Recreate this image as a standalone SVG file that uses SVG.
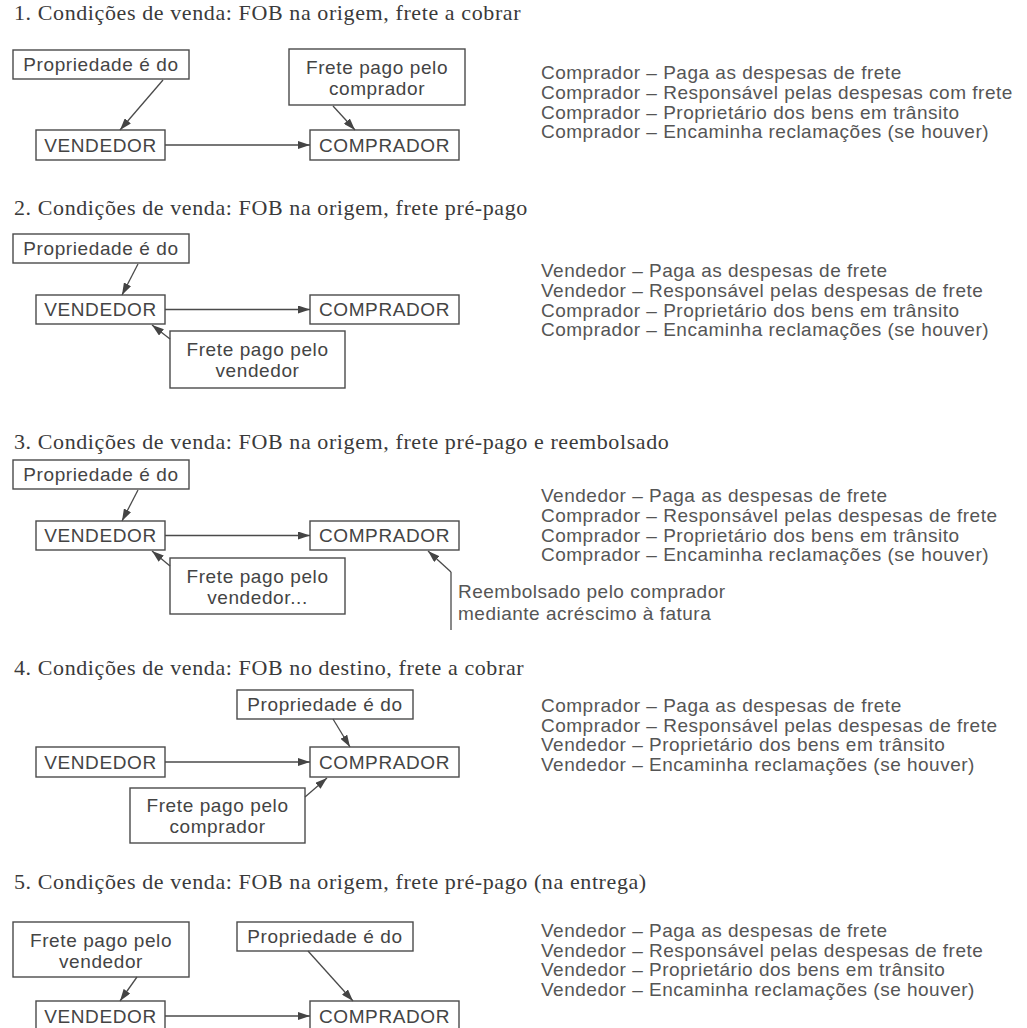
<svg xmlns="http://www.w3.org/2000/svg" width="1027" height="1028" viewBox="0 0 1027 1028">
<style>
.bg{fill:#ffffff}
.title{font-family:"Liberation Serif","Times New Roman",serif;font-size:22px;fill:#3a3a3a;letter-spacing:0.6px}
.box rect{fill:#ffffff;stroke:#4a4a4a;stroke-width:1.4}
.box text{font-family:"Liberation Sans",Arial,sans-serif;font-size:19px;fill:#444;text-anchor:middle;dominant-baseline:central;letter-spacing:0.6px}
.info{font-family:"Liberation Sans",Arial,sans-serif;font-size:19px;fill:#555;letter-spacing:0.5px;dominant-baseline:central}
.conn line{stroke:#4a4a4a;stroke-width:1.3;fill:none}
.arr{marker-end:url(#ah)}
</style>
<defs>
<marker id="ah" markerUnits="userSpaceOnUse" markerWidth="12" markerHeight="8" refX="12" refY="4" orient="auto">
<path d="M0,0 L12,4 L0,8 z" fill="#444"/>
</marker>
</defs>
<rect class="bg" x="0" y="0" width="1027" height="1028"/>

<!-- Section 1 -->
<text class="title" x="14" y="20">1. Condições de venda: FOB na origem, frete a cobrar</text>
<g id="s1-prop" class="box"><rect x="13" y="50" width="176" height="29"/><text x="101" y="64.5">Propriedade é do</text></g>
<g id="s1-frete" class="box"><rect x="289" y="49" width="176" height="56"/><text x="377" y="67">Frete pago pelo</text><text x="377" y="88">comprador</text></g>
<g id="s1-vend" class="box"><rect x="36" y="130" width="129" height="30"/><text x="100.5" y="145">VENDEDOR</text></g>
<g id="s1-comp" class="box"><rect x="310" y="130" width="149" height="30"/><text x="384.5" y="145">COMPRADOR</text></g>
<g id="s1-info" class="info">
<text x="541" y="72">Comprador – Paga as despesas de frete</text>
<text x="541" y="92">Comprador – Responsável pelas despesas com frete</text>
<text x="541" y="112">Comprador – Proprietário dos bens em trânsito</text>
<text x="541" y="131">Comprador – Encaminha reclamações (se houver)</text>
</g>

<!-- Section 2 -->
<text class="title" x="14" y="215">2. Condições de venda: FOB na origem, frete pré-pago</text>
<g id="s2-prop" class="box"><rect x="13" y="234" width="176" height="29"/><text x="101" y="248.5">Propriedade é do</text></g>
<g id="s2-vend" class="box"><rect x="36" y="295" width="129" height="29"/><text x="100.5" y="309.5">VENDEDOR</text></g>
<g id="s2-comp" class="box"><rect x="310" y="295" width="149" height="29"/><text x="384.5" y="309.5">COMPRADOR</text></g>
<g id="s2-frete" class="box"><rect x="170" y="331" width="175" height="57"/><text x="257.5" y="349">Frete pago pelo</text><text x="257.5" y="370">vendedor</text></g>
<g id="s2-info" class="info">
<text x="541" y="270">Vendedor – Paga as despesas de frete</text>
<text x="541" y="290">Vendedor – Responsável pelas despesas de frete</text>
<text x="541" y="310">Comprador – Proprietário dos bens em trânsito</text>
<text x="541" y="329">Comprador – Encaminha reclamações (se houver)</text>
</g>

<!-- Section 3 -->
<text class="title" x="14" y="449">3. Condições de venda: FOB na origem, frete pré-pago e reembolsado</text>
<g id="s3-prop" class="box"><rect x="13" y="460" width="176" height="29"/><text x="101" y="474.5">Propriedade é do</text></g>
<g id="s3-vend" class="box"><rect x="36" y="521" width="129" height="29"/><text x="100.5" y="535.5">VENDEDOR</text></g>
<g id="s3-comp" class="box"><rect x="310" y="521" width="149" height="29"/><text x="384.5" y="535.5">COMPRADOR</text></g>
<g id="s3-frete" class="box"><rect x="170" y="558" width="175" height="56"/><text x="257.5" y="576">Frete pago pelo</text><text x="257.5" y="597">vendedor...</text></g>
<g id="s3-reemb" class="info">
<text x="458" y="591">Reembolsado pelo comprador</text>
<text x="458" y="613">mediante acréscimo à fatura</text>
</g>
<g id="s3-info" class="info">
<text x="541" y="495">Vendedor – Paga as despesas de frete</text>
<text x="541" y="515">Comprador – Responsável pelas despesas de frete</text>
<text x="541" y="535">Comprador – Proprietário dos bens em trânsito</text>
<text x="541" y="554">Comprador – Encaminha reclamações (se houver)</text>
</g>

<!-- Section 4 -->
<text class="title" x="14" y="675">4. Condições de venda: FOB no destino, frete a cobrar</text>
<g id="s4-prop" class="box"><rect x="237" y="690" width="176" height="29"/><text x="325" y="704.5">Propriedade é do</text></g>
<g id="s4-vend" class="box"><rect x="36" y="747" width="129" height="30"/><text x="100.5" y="762">VENDEDOR</text></g>
<g id="s4-comp" class="box"><rect x="310" y="747" width="149" height="30"/><text x="384.5" y="762">COMPRADOR</text></g>
<g id="s4-frete" class="box"><rect x="130" y="788" width="175" height="55"/><text x="217.5" y="805">Frete pago pelo</text><text x="217.5" y="826">comprador</text></g>
<g id="s4-info" class="info">
<text x="541" y="705">Comprador – Paga as despesas de frete</text>
<text x="541" y="725">Comprador – Responsável pelas despesas de frete</text>
<text x="541" y="744">Vendedor – Proprietário dos bens em trânsito</text>
<text x="541" y="764">Vendedor – Encaminha reclamações (se houver)</text>
</g>

<!-- Section 5 -->
<text class="title" x="14" y="889">5. Condições de venda: FOB na origem, frete pré-pago (na entrega)</text>
<g id="s5-frete" class="box"><rect x="13" y="922" width="176" height="55"/><text x="101" y="940">Frete pago pelo</text><text x="101" y="961">vendedor</text></g>
<g id="s5-prop" class="box"><rect x="237" y="922" width="176" height="29"/><text x="325" y="936.5">Propriedade é do</text></g>
<g id="s5-vend" class="box"><rect x="36" y="1001" width="129" height="30"/><text x="100.5" y="1016">VENDEDOR</text></g>
<g id="s5-comp" class="box"><rect x="310" y="1001" width="149" height="30"/><text x="384.5" y="1016">COMPRADOR</text></g>
<g id="s5-info" class="info">
<text x="541" y="930">Vendedor – Paga as despesas de frete</text>
<text x="541" y="950">Vendedor – Responsável pelas despesas de frete</text>
<text x="541" y="969">Vendedor – Proprietário dos bens em trânsito</text>
<text x="541" y="989">Vendedor – Encaminha reclamações (se houver)</text>
</g>

<!-- Connectors -->
<g id="connectors" class="conn">
<line class="arr" x1="165" y1="145" x2="310" y2="145"/>
<line class="arr" x1="163" y1="80" x2="120" y2="130"/>
<line class="arr" x1="333" y1="106" x2="355" y2="130"/>

<line class="arr" x1="165" y1="309.5" x2="310" y2="309.5"/>
<line class="arr" x1="138" y1="264" x2="122" y2="295"/>
<line class="arr" x1="170" y1="339" x2="152" y2="325"/>

<line class="arr" x1="165" y1="535.5" x2="310" y2="535.5"/>
<line class="arr" x1="138" y1="490" x2="122" y2="521"/>
<line class="arr" x1="170" y1="566" x2="152" y2="551"/>
<line class="arr" x1="451" y1="572" x2="428" y2="551"/>
<line x1="451" y1="572" x2="451" y2="630"/>

<line class="arr" x1="165" y1="762" x2="310" y2="762"/>
<line class="arr" x1="333" y1="719" x2="350" y2="747"/>
<line class="arr" x1="305" y1="797" x2="327" y2="778"/>

<line class="arr" x1="165" y1="1016" x2="310" y2="1016"/>
<line class="arr" x1="137" y1="977" x2="120" y2="1001"/>
<line class="arr" x1="308" y1="951" x2="353" y2="1001"/>
</g>
</svg>
